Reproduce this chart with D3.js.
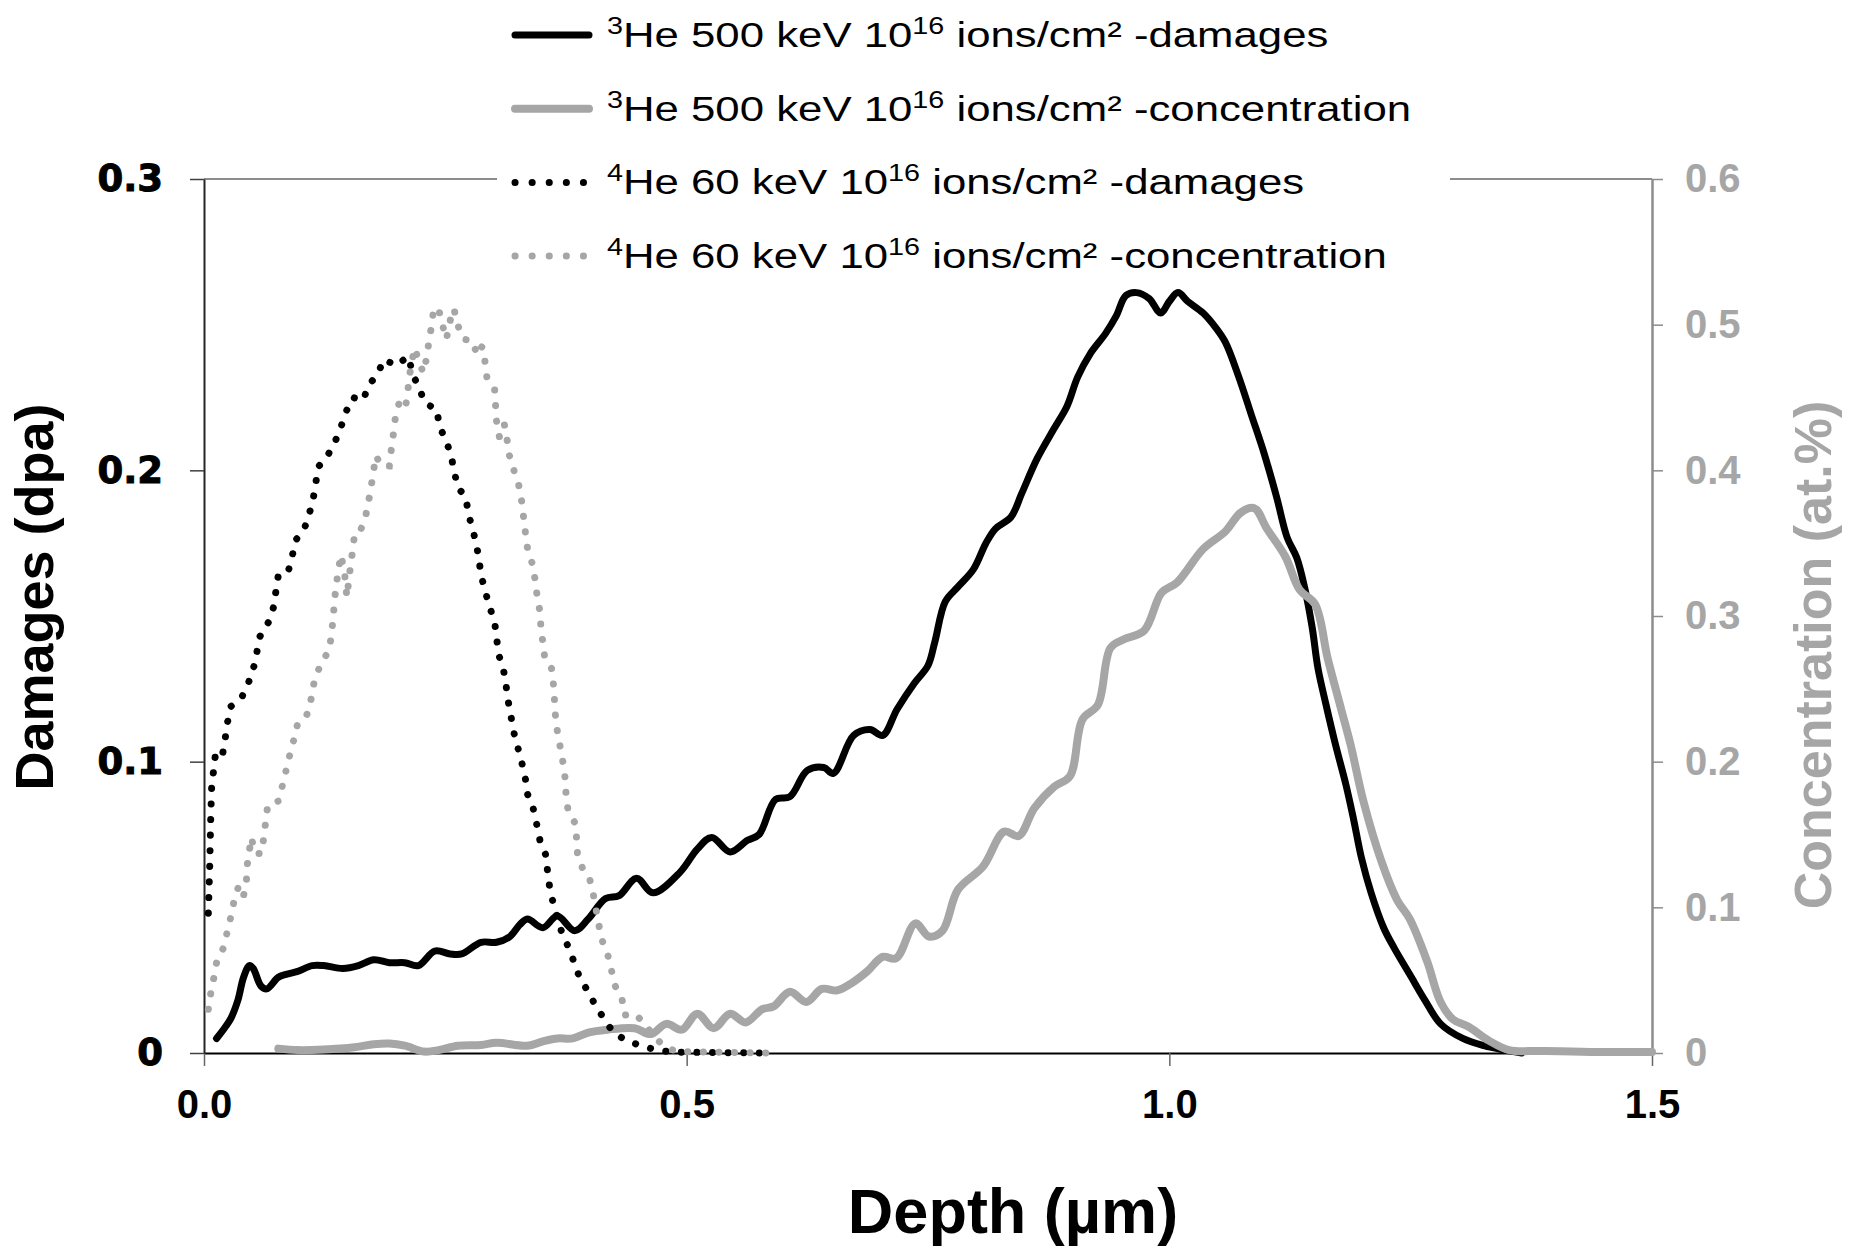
<!DOCTYPE html>
<html>
<head>
<meta charset="utf-8">
<script src="https://cdn.jsdelivr.net/npm/d3@7"></script>
<style>
  body { margin: 0; background: #fff; }
  svg { display: block; }
  .tick text { font-family: "Liberation Sans", Arial, sans-serif; font-weight: bold; font-size: 40px; }
  .yleft .tick text { font-family: "DejaVu Sans", sans-serif; font-size: 37px; stroke: #000; stroke-width: 1px; }
  .ttl { font-family: "Liberation Sans", Arial, sans-serif; font-weight: bold; }
  .leg { font-family: "Liberation Sans", Arial, sans-serif; font-size: 35px; fill: #000; }
</style>
</head>
<body>
<svg id="chart"></svg>
<script>
// depth (µm) , value
const he3Damage = [[0.013,0.005],[0.020,0.008],[0.028,0.012],[0.035,0.018],[0.041,0.026],[0.047,0.030],[0.051,0.029],[0.059,0.023],[0.065,0.022],[0.077,0.026],[0.085,0.027],[0.097,0.028],[0.112,0.030],[0.124,0.030],[0.144,0.029],[0.160,0.030],[0.176,0.032],[0.192,0.031],[0.208,0.031],[0.222,0.030],[0.239,0.035],[0.255,0.034],[0.267,0.034],[0.287,0.038],[0.303,0.038],[0.317,0.040],[0.327,0.044],[0.335,0.046],[0.351,0.043],[0.366,0.047],[0.384,0.042],[0.398,0.046],[0.416,0.053],[0.430,0.054],[0.448,0.060],[0.465,0.055],[0.493,0.062],[0.511,0.070],[0.526,0.074],[0.545,0.069],[0.563,0.073],[0.575,0.075],[0.592,0.087],[0.607,0.088],[0.625,0.097],[0.642,0.098],[0.652,0.096],[0.673,0.109],[0.690,0.111],[0.703,0.109],[0.718,0.118],[0.736,0.127],[0.750,0.133],[0.757,0.141],[0.768,0.155],[0.781,0.160],[0.797,0.166],[0.810,0.175],[0.820,0.180],[0.836,0.184],[0.847,0.192],[0.863,0.204],[0.880,0.214],[0.894,0.222],[0.905,0.232],[0.918,0.240],[0.934,0.247],[0.945,0.253],[0.955,0.260],[0.966,0.261],[0.979,0.259],[0.991,0.254],[1.000,0.258],[1.009,0.261],[1.019,0.258],[1.035,0.254],[1.048,0.249],[1.058,0.244],[1.072,0.232],[1.085,0.219],[1.098,0.206],[1.111,0.191],[1.122,0.177],[1.132,0.170],[1.140,0.160],[1.148,0.146],[1.154,0.132],[1.162,0.120],[1.172,0.106],[1.183,0.092],[1.191,0.080],[1.199,0.067],[1.209,0.055],[1.222,0.043],[1.233,0.036],[1.249,0.027],[1.265,0.018],[1.281,0.010],[1.304,0.005],[1.326,0.0025],[1.347,0.001],[1.365,0]];

const he3Conc = [[0.077,0.003],[0.097,0.002],[0.124,0.0024],[0.156,0.004],[0.176,0.006],[0.192,0.0065],[0.208,0.005],[0.228,0.001],[0.243,0.002],[0.263,0.005],[0.287,0.0055],[0.303,0.007],[0.335,0.005],[0.351,0.008],[0.366,0.010],[0.382,0.010],[0.398,0.014],[0.418,0.016],[0.446,0.017],[0.463,0.013],[0.479,0.020],[0.495,0.016],[0.511,0.027],[0.528,0.017],[0.545,0.027],[0.561,0.021],[0.578,0.030],[0.590,0.032],[0.607,0.042],[0.624,0.035],[0.640,0.044],[0.656,0.043],[0.671,0.048],[0.687,0.056],[0.703,0.066],[0.717,0.065],[0.737,0.089],[0.751,0.080],[0.765,0.084],[0.781,0.112],[0.807,0.128],[0.829,0.152],[0.844,0.149],[0.860,0.168],[0.881,0.183],[0.897,0.190],[0.910,0.229],[0.926,0.239],[0.939,0.278],[0.953,0.284],[0.974,0.290],[0.992,0.316],[1.008,0.323],[1.035,0.346],[1.058,0.358],[1.074,0.371],[1.088,0.374],[1.101,0.360],[1.120,0.341],[1.135,0.318],[1.151,0.308],[1.164,0.271],[1.178,0.236],[1.188,0.211],[1.201,0.173],[1.220,0.131],[1.236,0.105],[1.249,0.092],[1.267,0.063],[1.281,0.035],[1.294,0.023],[1.310,0.018],[1.331,0.0085],[1.352,0.002],[1.384,0.0014],[1.436,0.0007],[1.5,0.0007]];

const he4Damage = [[0.0045,0.048],[0.006,0.065],[0.007,0.081],[0.008,0.092],[0.010,0.097],[0.012,0.103],[0.019,0.102],[0.022,0.108],[0.024,0.113],[0.028,0.119],[0.039,0.122],[0.046,0.127],[0.052,0.133],[0.055,0.138],[0.058,0.143],[0.067,0.148],[0.072,0.153],[0.077,0.164],[0.087,0.165],[0.091,0.170],[0.095,0.176],[0.104,0.180],[0.109,0.185],[0.113,0.190],[0.116,0.196],[0.118,0.201],[0.128,0.205],[0.136,0.210],[0.142,0.215],[0.147,0.220],[0.154,0.225],[0.165,0.224],[0.170,0.229],[0.180,0.233],[0.186,0.238],[0.200,0.236],[0.207,0.238],[0.212,0.239],[0.216,0.233],[0.222,0.229],[0.229,0.223],[0.235,0.222],[0.241,0.221],[0.244,0.215],[0.251,0.210],[0.256,0.205],[0.259,0.200],[0.263,0.194],[0.271,0.191],[0.274,0.185],[0.278,0.180],[0.282,0.175],[0.285,0.169],[0.287,0.164],[0.291,0.159],[0.295,0.154],[0.301,0.148],[0.303,0.143],[0.305,0.137],[0.310,0.132],[0.313,0.126],[0.315,0.121],[0.321,0.110],[0.325,0.105],[0.329,0.100],[0.333,0.094],[0.335,0.089],[0.341,0.084],[0.345,0.078],[0.348,0.073],[0.354,0.068],[0.356,0.062],[0.358,0.057],[0.362,0.051],[0.371,0.041],[0.378,0.036],[0.389,0.026],[0.398,0.021],[0.406,0.016],[0.414,0.012],[0.424,0.007],[0.437,0.0044],[0.453,0.0024],[0.469,0.001],[0.485,0.0003],[0.578,0]];

const he4Conc = [[0.0045,0.030],[0.007,0.041],[0.010,0.051],[0.013,0.062],[0.020,0.072],[0.024,0.083],[0.028,0.094],[0.031,0.104],[0.036,0.115],[0.041,0.108],[0.044,0.119],[0.045,0.130],[0.049,0.148],[0.053,0.137],[0.060,0.137],[0.062,0.149],[0.064,0.159],[0.066,0.170],[0.077,0.173],[0.081,0.183],[0.085,0.194],[0.089,0.205],[0.093,0.215],[0.097,0.226],[0.105,0.230],[0.109,0.236],[0.112,0.247],[0.115,0.258],[0.122,0.268],[0.130,0.277],[0.132,0.288],[0.134,0.299],[0.135,0.310],[0.137,0.321],[0.139,0.331],[0.142,0.342],[0.146,0.327],[0.148,0.313],[0.151,0.330],[0.154,0.345],[0.156,0.356],[0.161,0.357],[0.167,0.367],[0.170,0.377],[0.173,0.388],[0.178,0.410],[0.184,0.403],[0.192,0.403],[0.194,0.414],[0.196,0.424],[0.198,0.435],[0.202,0.446],[0.208,0.442],[0.211,0.451],[0.212,0.462],[0.215,0.473],[0.218,0.484],[0.227,0.467],[0.231,0.478],[0.233,0.489],[0.236,0.500],[0.238,0.511],[0.243,0.511],[0.247,0.500],[0.251,0.490],[0.253,0.496],[0.256,0.506],[0.259,0.511],[0.262,0.501],[0.269,0.490],[0.278,0.489],[0.283,0.479],[0.288,0.485],[0.291,0.475],[0.293,0.464],[0.301,0.456],[0.302,0.445],[0.303,0.434],[0.306,0.423],[0.311,0.432],[0.314,0.421],[0.316,0.411],[0.321,0.400],[0.326,0.390],[0.329,0.379],[0.331,0.368],[0.333,0.357],[0.335,0.347],[0.340,0.336],[0.343,0.325],[0.345,0.314],[0.348,0.303],[0.349,0.292],[0.351,0.282],[0.353,0.271],[0.360,0.264],[0.362,0.253],[0.363,0.243],[0.364,0.232],[0.366,0.221],[0.369,0.210],[0.372,0.199],[0.374,0.189],[0.375,0.178],[0.377,0.167],[0.385,0.157],[0.386,0.146],[0.387,0.136],[0.392,0.127],[0.399,0.121],[0.403,0.110],[0.406,0.099],[0.409,0.088],[0.412,0.078],[0.418,0.068],[0.422,0.057],[0.426,0.046],[0.433,0.037],[0.436,0.026],[0.446,0.027],[0.457,0.020],[0.465,0.012],[0.476,0.005],[0.489,0.001],[0.590,0]];

const xTicks = [0, 0.5, 1.0, 1.5];
const yLeftTicks = [0, 0.1, 0.2, 0.3];
const yRightTicks = [0, 0.1, 0.2, 0.3, 0.4, 0.5, 0.6];
const legendLabels = [
  {iso: "3", rest: "He 500 keV 10", exp: "16", tail: " ions/cm² -damages"},
  {iso: "3", rest: "He 500 keV 10", exp: "16", tail: " ions/cm² -concentration"},
  {iso: "4", rest: "He 60 keV 10", exp: "16", tail: " ions/cm² -damages"},
  {iso: "4", rest: "He 60 keV 10", exp: "16", tail: " ions/cm² -concentration"}
];

const W = 1854, H = 1254;
const plotL = 204, plotR = 1652, plotT = 179, plotB = 1053;
const grey = "#a6a6a6";

const svg = d3.select("#chart").attr("width", W).attr("height", H);

const x = d3.scaleLinear().domain([0, 1.5]).range([plotL, plotR]);
const yL = d3.scaleLinear().domain([0, 0.3]).range([plotB, plotT]);
const yR = d3.scaleLinear().domain([0, 0.6]).range([plotB, plotT]);

// top frame line
svg.append("line")
   .attr("x1", plotL).attr("x2", plotR)
   .attr("y1", plotT).attr("y2", plotT)
   .attr("stroke", "#8c8c8c").attr("stroke-width", 2);

// axes
const gx = svg.append("g")
   .attr("transform", "translate(0," + plotB + ")")
   .call(d3.axisBottom(x).tickValues(xTicks).tickFormat(d3.format(".1f"))
           .tickSize(13).tickSizeOuter(0).tickPadding(24));
gx.select(".domain").attr("stroke", "#000").attr("stroke-width", 2);
gx.selectAll(".tick line").attr("stroke", "#666").attr("stroke-width", 1.5);
gx.selectAll(".tick text").attr("fill", "#000");

const gl = svg.append("g")
   .attr("class", "yleft")
   .attr("transform", "translate(" + plotL + ",0)")
   .call(d3.axisLeft(yL).tickValues(yLeftTicks).tickFormat(d => d === 0 ? "0" : d3.format(".1f")(d))
           .tickSize(14).tickSizeOuter(0).tickPadding(27));
gl.select(".domain").attr("stroke", "#262626").attr("stroke-width", 2);
gl.selectAll(".tick line").attr("stroke", "#404040").attr("stroke-width", 1.5);
gl.selectAll(".tick text").attr("fill", "#000");

const gr = svg.append("g")
   .attr("transform", "translate(" + plotR + ",0)")
   .call(d3.axisRight(yR).tickValues(yRightTicks).tickFormat(d => d === 0 ? "0" : d3.format(".1f")(d))
           .tickSize(11).tickSizeOuter(0).tickPadding(22));
gr.select(".domain").attr("stroke", "#8c8c8c").attr("stroke-width", 2.5);
gr.selectAll(".tick line").attr("stroke", "#8c8c8c").attr("stroke-width", 1.5);
gr.selectAll(".tick text").attr("fill", grey);

// series (solid ones smoothed like the original spreadsheet curves)
const smoothL = d3.line().curve(d3.curveCatmullRom.alpha(0.5)).x(d => x(d[0])).y(d => yL(d[1]));
const smoothR = d3.line().curve(d3.curveCatmullRom.alpha(0.5)).x(d => x(d[0])).y(d => yR(d[1]));
const lineL = d3.line().x(d => x(d[0])).y(d => yL(d[1]));
const lineR = d3.line().x(d => x(d[0])).y(d => yR(d[1]));

svg.append("path").datum(he3Damage)
   .attr("d", smoothL).attr("fill", "none")
   .attr("stroke", "#000").attr("stroke-width", 7)
   .attr("stroke-linejoin", "round").attr("stroke-linecap", "round");

svg.append("path").datum(he3Conc)
   .attr("d", smoothR).attr("fill", "none")
   .attr("stroke", grey).attr("stroke-width", 8)
   .attr("stroke-linejoin", "round").attr("stroke-linecap", "round");

svg.append("path").datum(he4Damage)
   .attr("d", lineL).attr("fill", "none")
   .attr("stroke", "#000").attr("stroke-width", 7)
   .attr("stroke-linecap", "round").attr("stroke-dasharray", "0.1 15.5");

svg.append("path").datum(he4Conc)
   .attr("d", lineR).attr("fill", "none")
   .attr("stroke", grey).attr("stroke-width", 7)
   .attr("stroke-linecap", "round").attr("stroke-dasharray", "0.1 15.5");

// axis titles
svg.append("text")
   .attr("class", "ttl")
   .attr("transform", "translate(53,597) rotate(-90)")
   .attr("text-anchor", "middle")
   .attr("font-size", 54)
   .attr("fill", "#000")
   .text("Damages (dpa)");

svg.append("text")
   .attr("class", "ttl")
   .attr("transform", "translate(1831,655) rotate(-90)")
   .attr("text-anchor", "middle")
   .attr("font-size", 52)
   .attr("fill", grey)
   .text("Concentration (at.%)");

svg.append("text")
   .attr("class", "ttl")
   .attr("x", 1013).attr("y", 1233)
   .attr("text-anchor", "middle")
   .attr("font-size", 63)
   .attr("fill", "#000")
   .text("Depth (µm)");

// legend
const leg = svg.append("g");
leg.append("rect")
   .attr("x", 497).attr("y", 0)
   .attr("width", 953).attr("height", 272)
   .attr("fill", "#fff");

const legStyles = [
  {color: "#000", width: 7, dash: null},
  {color: grey, width: 8, dash: null},
  {color: "#000", width: 7, dash: "0.1 17"},
  {color: grey, width: 7, dash: "0.1 17"}
];

legendLabels.forEach((lab, i) => {
  const ly = 35 + i * 73.7;
  const st = legStyles[i];
  const ln = leg.append("line")
     .attr("x1", 515).attr("x2", st.dash ? 584 : 589)
     .attr("y1", ly).attr("y2", ly)
     .attr("stroke", st.color).attr("stroke-width", st.width)
     .attr("stroke-linecap", "round");
  if (st.dash) ln.attr("stroke-dasharray", st.dash);

  const t = leg.append("text")
     .attr("class", "leg")
     .attr("transform", "translate(607," + (ly + 12) + ") scale(1.25,1)");
  t.append("tspan").attr("font-size", 23).attr("dy", -13).text(lab.iso);
  t.append("tspan").attr("dy", 13).text(lab.rest);
  t.append("tspan").attr("font-size", 23).attr("dy", -13).text(lab.exp);
  t.append("tspan").attr("dy", 13).text(lab.tail);
});
</script>
</body>
</html>
